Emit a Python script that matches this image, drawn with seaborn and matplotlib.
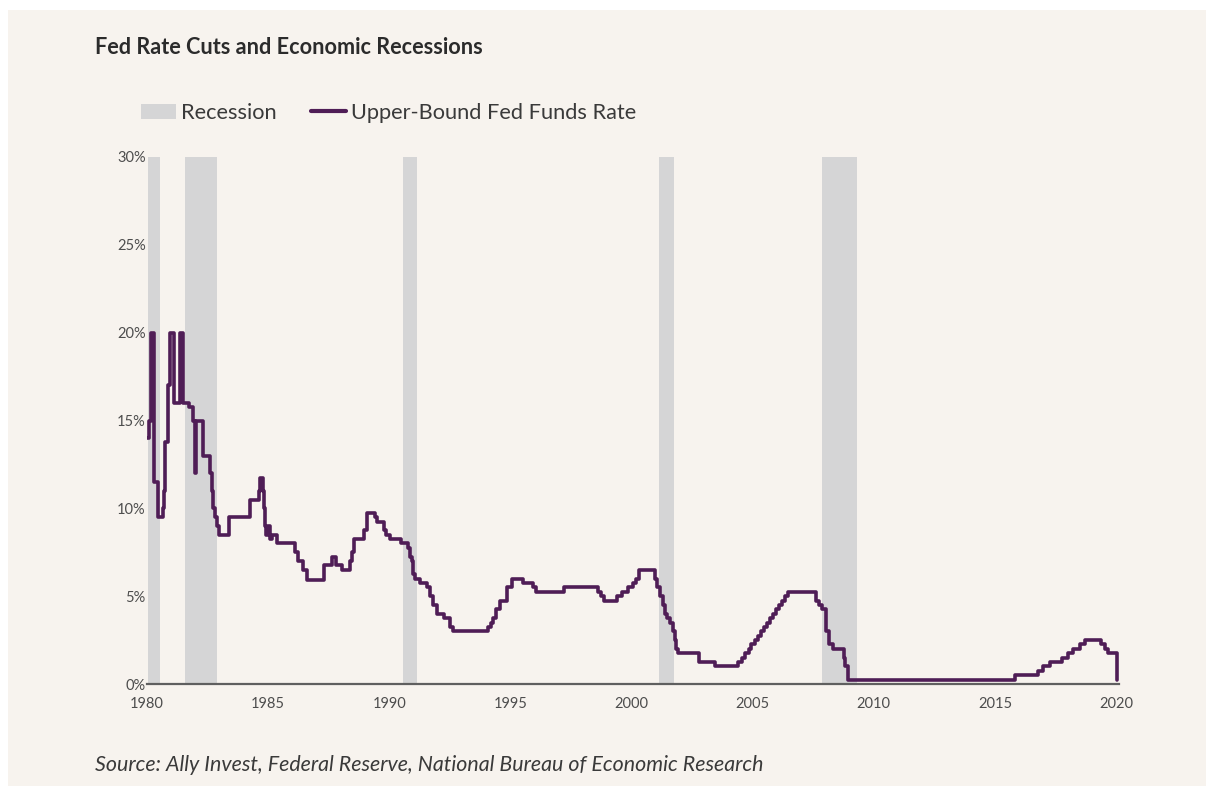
import matplotlib
matplotlib.use("Agg")
import matplotlib.pyplot as plt
from matplotlib.patches import Patch, Rectangle
from matplotlib.lines import Line2D
import seaborn as sns
import pandas as pd

# Upper-bound fed funds target: change points (decimal year, rate in %)
rate_years = [
    1980.00, 1980.08, 1980.15, 1980.30, 1980.45, 1980.68, 1980.72, 1980.76, 1980.88, 1980.95,
    1981.10, 1981.36, 1981.50, 1981.75, 1981.90, 1981.97, 1982.03, 1982.33, 1982.62, 1982.67,
    1982.72, 1982.80, 1982.88, 1982.98, 1983.40, 1984.25, 1984.62, 1984.66, 1984.80, 1984.83,
    1984.86, 1984.90, 1985.00, 1985.08, 1985.18, 1985.35, 1986.10, 1986.25, 1986.45, 1986.62,
    1987.30, 1987.62, 1987.82, 1988.05, 1988.37, 1988.45, 1988.55, 1988.95, 1989.10, 1989.42,
    1989.50, 1989.78, 1989.85, 1990.02, 1990.48, 1990.78, 1990.85, 1990.92, 1990.98, 1991.05,
    1991.28, 1991.57, 1991.68, 1991.82, 1991.95, 1992.27, 1992.52, 1992.65, 1994.08, 1994.20,
    1994.30, 1994.40, 1994.58, 1994.85, 1995.07, 1995.50, 1995.95, 1996.05, 1997.20, 1998.62,
    1998.75, 1998.85, 1999.42, 1999.62, 1999.85, 2000.05, 2000.18, 2000.30, 2000.95, 2001.05,
    2001.18, 2001.28, 2001.37, 2001.47, 2001.60, 2001.70, 2001.78, 2001.85, 2001.93, 2002.80,
    2003.45, 2004.40, 2004.55, 2004.70, 2004.85, 2004.95, 2005.08, 2005.20, 2005.33, 2005.48,
    2005.60, 2005.72, 2005.83, 2005.95, 2006.07, 2006.22, 2006.35, 2006.47, 2007.60, 2007.75,
    2007.85, 2008.02, 2008.15, 2008.30, 2008.78, 2008.83, 2008.92, 2015.83, 2016.79, 2017.00,
    2017.28, 2017.76, 2018.00, 2018.23, 2018.50, 2018.72, 2019.38, 2019.55, 2019.65, 2020.04,
]
rate_values = [
    14.0, 15.0, 20.0, 11.5, 9.5, 10.0, 11.0, 13.75, 17.0, 20.0,
    16.0, 20.0, 16.0, 15.75, 15.0, 12.0, 15.0, 13.0, 12.0, 11.0,
    10.0, 9.5, 9.0, 8.5, 9.5, 10.5, 11.0, 11.75, 11.0, 10.0,
    9.0, 8.5, 9.0, 8.25, 8.5, 8.0, 7.5, 7.0, 6.5, 5.9,
    6.75, 7.25, 6.75, 6.5, 7.0, 7.5, 8.25, 8.75, 9.75, 9.5,
    9.25, 8.75, 8.5, 8.25, 8.0, 7.75, 7.25, 7.0, 6.25, 6.0,
    5.75, 5.5, 5.0, 4.5, 4.0, 3.75, 3.25, 3.0, 3.25, 3.5,
    3.75, 4.25, 4.75, 5.5, 6.0, 5.75, 5.5, 5.25, 5.5, 5.25,
    5.0, 4.75, 5.0, 5.25, 5.5, 5.75, 6.0, 6.5, 6.0, 5.5,
    5.0, 4.5, 4.0, 3.75, 3.5, 3.0, 2.5, 2.0, 1.75, 1.25,
    1.0, 1.25, 1.5, 1.75, 2.0, 2.25, 2.5, 2.75, 3.0, 3.25,
    3.5, 3.75, 4.0, 4.25, 4.5, 4.75, 5.0, 5.25, 4.75, 4.5,
    4.25, 3.0, 2.25, 2.0, 1.5, 1.0, 0.25, 0.5, 0.75, 1.0,
    1.25, 1.5, 1.75, 2.0, 2.25, 2.5, 2.25, 2.0, 1.75, 0.25,
]

# NBER recession periods (start, end) in decimal years
recession_starts = [1980.05, 1981.55, 1990.55, 2001.12, 2007.88]
recession_ends = [1980.53, 1982.88, 1991.15, 2001.75, 2009.30]

x_ticks = [1980, 1985, 1990, 1995, 2000, 2005, 2010, 2015, 2020]
y_ticks = [0, 5, 10, 15, 20, 25, 30]
y_tick_labels = ["0%", "5%", "10%", "15%", "20%", "25%", "30%"]

title_text = "Fed Rate Cuts and Economic Recessions"
legend_labels = ["Recession", "Upper-Bound Fed Funds Rate"]
source_text = "Source: Ally Invest, Federal Reserve, National Bureau of Economic Research"

BG = "#f7f3ee"
LINE = "#4f1d56"
BAND = "#d5d5d6"

sns.set_theme(style="white")
plt.rcParams["font.family"] = ["Lato", "DejaVu Sans"]

W, H = 1206, 786
fig = plt.figure(figsize=(W / 100, H / 100), dpi=100)
fig.patch.set_facecolor("white")
fig.patches.append(Rectangle((8 / W, 0), 1, 1 - 10 / H, transform=fig.transFigure,
                             facecolor=BG, edgecolor="none", zorder=-10))

ax = fig.add_axes([147 / W, (H - 684) / H, (1118.5 - 147) / W, (684 - 157) / H])
ax.set_facecolor(BG)

for s, e in zip(recession_starts, recession_ends):
    ax.axvspan(s, e, color=BAND, lw=0, zorder=1)

df = pd.DataFrame({"year": rate_years, "rate": rate_values})
sns.lineplot(data=df, x="year", y="rate", ax=ax, drawstyle="steps-post",
             estimator=None, color=LINE, lw=2.6, zorder=3)

ax.set_xlim(1980, 2020.1)
ax.set_ylim(0, 30)
ax.set_xticks(x_ticks)
ax.set_xticklabels([str(t) for t in x_ticks])
ax.set_yticks(y_ticks)
ax.set_yticklabels(y_tick_labels)
ax.set_xlabel("")
ax.set_ylabel("")
ax.tick_params(axis="both", length=0, labelsize=10.5, labelcolor="#4d4d4d")
ax.tick_params(axis="x", pad=9)
ax.tick_params(axis="y", pad=1)
for side in ["top", "right", "left"]:
    ax.spines[side].set_visible(False)
ax.spines["bottom"].set_color("#5f5f5f")
ax.spines["bottom"].set_linewidth(1.6)
ax.grid(False)

fig.text(95 / W, 1 - 48 / H, title_text, fontsize=15.6, fontweight="bold",
         color="#2b2b2b", va="center", ha="left")

handles = [Patch(facecolor=BAND, edgecolor="none"),
           Line2D([0], [0], color=LINE, lw=3)]
fig.legend(handles, legend_labels, loc="center left",
           bbox_to_anchor=(141 / W, 1 - 113 / H), ncol=2, frameon=False,
           fontsize=15.7, labelcolor="#3a3a3a", handlelength=1.6,
           handletextpad=0.25, columnspacing=1.55, borderaxespad=0,
           borderpad=0)

fig.text(95 / W, 1 - 765 / H, source_text, fontsize=15.4, fontstyle="italic",
         color="#3a3a3a", va="center", ha="left")

fig.savefig("out.png", dpi=100, facecolor=fig.get_facecolor())
